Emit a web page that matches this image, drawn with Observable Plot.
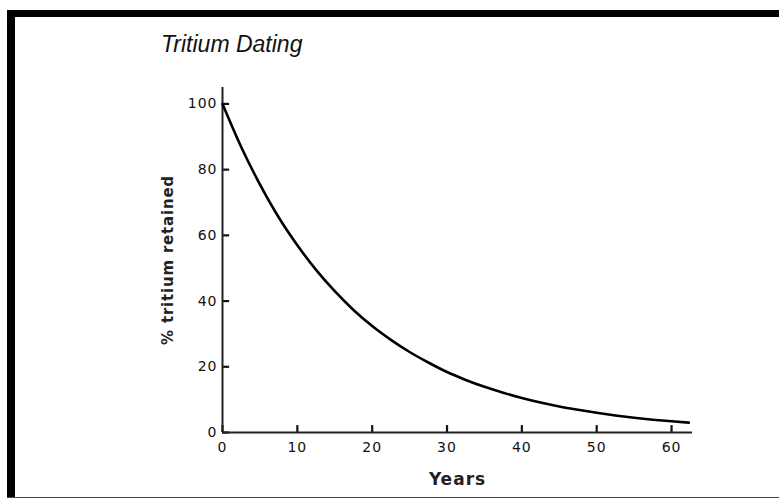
<!DOCTYPE html>
<html>
<head>
<meta charset="utf-8">
<script src="https://cdn.jsdelivr.net/npm/d3@7"></script>
<script src="https://cdn.jsdelivr.net/npm/@observablehq/plot@0.6"></script>
<style>
  html, body { margin: 0; padding: 0; background: #fff; }
  #page { position: relative; width: 779px; height: 500px; overflow: hidden; background: #fff; }
  .bar { position: absolute; background: #000; }
  #title { position: absolute; left: 161px; top: 31px; font-family: "Liberation Sans", Arial, sans-serif; font-style: italic; font-size: 23px; color: #111; white-space: nowrap; }
  #chart { position: absolute; left: 0; top: 0; }
</style>
</head>
<body>
<div id="page">
  <div id="chart"></div>
  <div class="bar" style="left:7px; top:10px; right:0; height:7px;"></div>
  <div class="bar" style="left:7px; top:10px; width:8px; bottom:2px;"></div>
  <div class="bar" style="left:7px; right:0; top:497px; height:1px; background:#444;"></div>
  <div id="title">Tritium Dating</div>
</div>
<script>
// Data
const years    = [0, 2.5, 5, 7.5, 10, 12.5, 15, 17.5, 20, 22.5, 25, 27.5, 30, 32.5, 35, 37.5, 40, 42.5, 45, 47.5, 50, 52.5, 55, 57.5, 60, 62.3];
const retained = [100, 86.9, 75.5, 65.5, 57, 49.5, 43, 37.3, 32.4, 28.2, 24.5, 21.3, 18.4, 16, 13.9, 12.1, 10.5, 9.1, 7.9, 6.9, 6, 5.2, 4.5, 3.9, 3.4, 3.0];
const xTicks = [0, 10, 20, 30, 40, 50, 60];
const yTicks = [0, 20, 40, 60, 80, 100];
const xLabel = "Years";
const yLabel = "% tritium retained";

const data = years.map((y, i) => ({year: y, pct: retained[i]}));

// inward tick length expressed in each axis' data units (~7px)
const xTickLenY = 2.1;   // along y, in % units
const yTickLenX = 0.95;  // along x, in years

const xTickData = xTicks.map(v => ({v, a: 0, b: xTickLenY}));
const yTickData = yTicks.map(v => ({v, a: 0, b: yTickLenX}));

const chart = Plot.plot({
  width: 779,
  height: 500,
  marginLeft: 222,
  marginRight: 87,
  marginTop: 87,
  marginBottom: 68,
  x: {domain: [0, 62.8]},
  y: {domain: [0, 105]},
  style: {fontFamily: "DejaVu Sans, sans-serif", fontSize: "12px", color: "#111", background: "transparent"},
  marks: [
    Plot.axisX({ticks: xTicks, tickSize: 0, tickPadding: 10, label: xLabel, labelArrow: "none", labelAnchor: "center", labelOffset: 52, tickFormat: d => String(d)}),
    Plot.axisY({ticks: yTicks, tickSize: 0, tickPadding: 5, label: yLabel, labelArrow: "none", labelAnchor: "center", labelOffset: 60, tickFormat: d => String(d)}),
    Plot.ruleX(xTickData, {x: "v", y1: "a", y2: "b", stroke: "#111", strokeWidth: 2.2}),
    Plot.ruleY(yTickData, {y: "v", x1: "a", x2: "b", stroke: "#111", strokeWidth: 2.2}),
    Plot.ruleY([0], {stroke: "#222", strokeWidth: 2}),
    Plot.ruleX([0], {stroke: "#222", strokeWidth: 2}),
    Plot.line(data, {x: "year", y: "pct", stroke: "#000", strokeWidth: 2.6, curve: "monotone-x"})
  ]
});

document.getElementById("chart").appendChild(chart);
const svg = d3.select(chart);
svg.selectAll('g[aria-label="x-axis tick label"], g[aria-label="y-axis tick label"]')
  .attr("font-size", 14).attr("letter-spacing", "1px").attr("fill", "#111");
svg.selectAll('g[aria-label="x-axis label"]').attr("font-size", 17).attr("letter-spacing", "1px").attr("font-weight", "bold").attr("fill", "#222");
svg.selectAll('g[aria-label="y-axis label"]').attr("font-size", 15).attr("letter-spacing", "0.8px").attr("font-weight", "bold").attr("fill", "#222");
</script>
</body>
</html>
